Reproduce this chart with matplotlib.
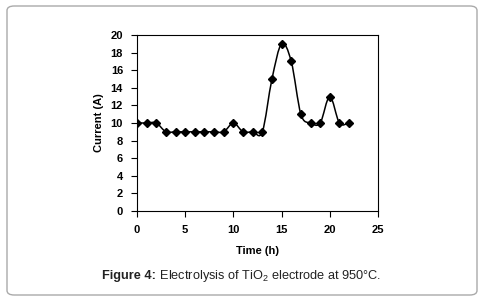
import numpy as np
import matplotlib.pyplot as plt
from matplotlib.path import Path
from matplotlib.patches import PathPatch, FancyBboxPatch

plt.rcParams['font.family'] = 'Liberation Sans'
plt.rcParams['mathtext.fontset'] = 'custom'
plt.rcParams['mathtext.rm'] = 'Liberation Sans'
plt.rcParams['mathtext.bf'] = 'Liberation Sans:bold'

time_h = [0, 1, 2, 3, 4, 5, 6, 7, 8, 9, 10, 11, 12, 13, 14, 15, 16, 17, 18, 19, 20, 21, 22]
current_a = [10, 10, 10, 9, 9, 9, 9, 9, 9, 9, 10, 9, 9, 9, 15, 19, 17, 11, 10, 10, 13, 10, 10]

fig = plt.figure(figsize=(4.84, 3.01), dpi=100)
ax = fig.add_axes([137 / 484, 1 - 211 / 301, 241 / 484, 176 / 301])

# smoothed line like the spreadsheet "smooth line" option
pts = np.column_stack([time_h, current_a]).astype(float)
verts = [pts[0]]
codes = [Path.MOVETO]
n = len(pts)
for i in range(n - 1):
    p0 = pts[max(i - 1, 0)]
    p1 = pts[i]
    p2 = pts[i + 1]
    p3 = pts[min(i + 2, n - 1)]
    verts += [p1 + (p2 - p0) / 6, p2 - (p3 - p1) / 6, p2]
    codes += [Path.CURVE4] * 3
ax.add_patch(PathPatch(Path(verts, codes), fill=False, lw=1.1, color='black'))
ax.plot(time_h, current_a, ls='none', marker='D', ms=4.2, color='black')

ax.set_xlim(0, 25)
ax.set_ylim(0, 20)
ax.set_xticks(range(0, 26, 5))
ax.set_yticks(range(0, 21, 2))
ax.tick_params(direction='out', length=4, width=0.8, labelsize=8,
               top=False, right=False, pad=6)
for lab in ax.get_xticklabels() + ax.get_yticklabels():
    lab.set_fontweight('bold')
for s in ax.spines.values():
    s.set_linewidth(0.8)

ax.set_xlabel('Time (h)', fontsize=8, fontweight='bold', labelpad=8)
ax.set_ylabel('Current (A)', fontsize=8, fontweight='bold', labelpad=5)

# caption: bold part + normal part, centred together
cy = 1 - 279 / 301
t1 = fig.text(0.5, cy, 'Figure 4:', ha='left', va='baseline',
              fontsize=9.2, fontweight='bold', color='#222222')
t2 = fig.text(0.5, cy, ' Electrolysis of TiO$_2$ electrode at 950°C.',
              ha='left', va='baseline', fontsize=9.2, color='#222222')
r = fig.canvas.get_renderer()
w1 = t1.get_window_extent(r).width / fig.bbox.width
w2 = t2.get_window_extent(r).width / fig.bbox.width
x0 = 0.5 - (w1 + w2) / 2
t1.set_x(x0)
t2.set_x(x0 + w1)

border = FancyBboxPatch((7 / 484, 6 / 301), 470 / 484, 289 / 301,
                        boxstyle='round,pad=0,rounding_size=0.015',
                        transform=fig.transFigure, fill=False,
                        ec='#aaaaaa', lw=1)
fig.patches.append(border)

fig.savefig('out.png', dpi=100)
